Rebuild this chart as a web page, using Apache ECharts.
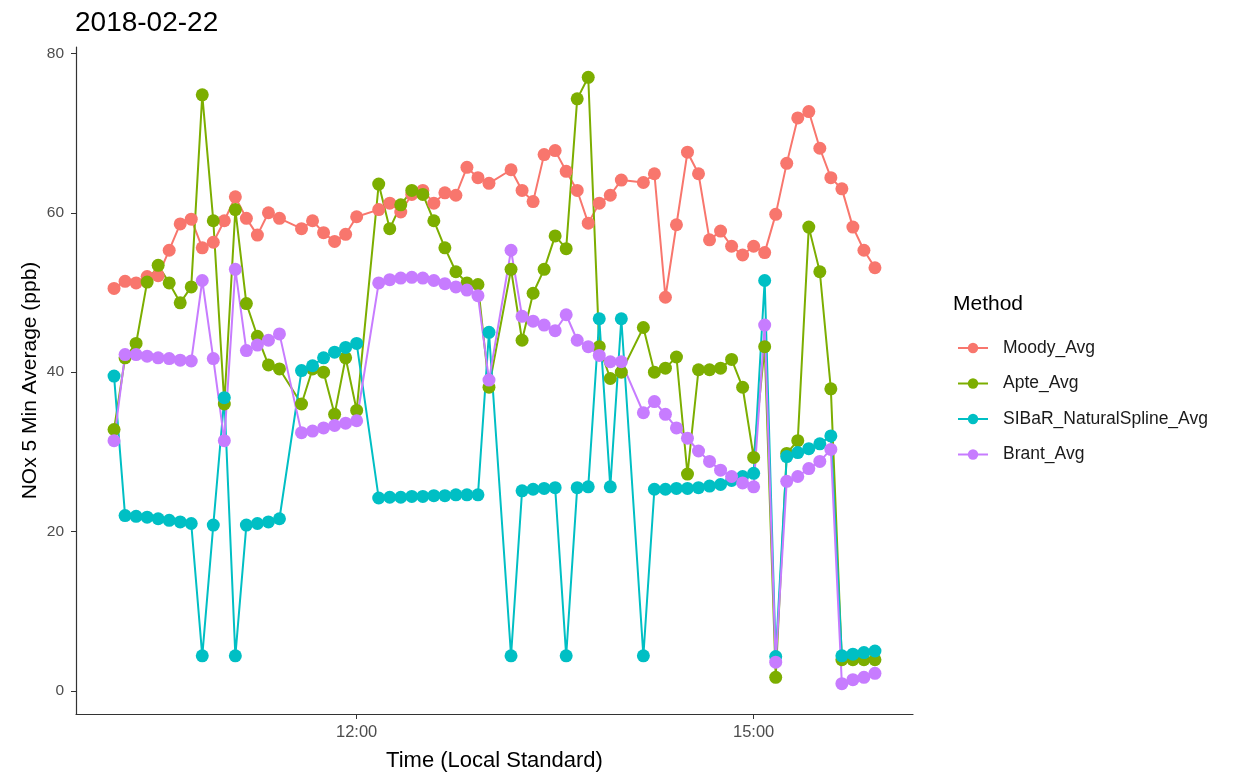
<!DOCTYPE html>
<html>
<head>
<meta charset="utf-8">
<script src="https://cdn.jsdelivr.net/npm/echarts@6/dist/echarts.min.js"></script>
<style>
  html, body { margin: 0; padding: 0; background: #fff; }
  #main { width: 1238px; height: 780px; }
</style>
</head>
<body>
<div id="main"></div>
<script>
// 5 分钟采样时刻（缺失的时刻直接不列出）
var times = ['10:10','10:15','10:20','10:25','10:30','10:35','10:40','10:45','10:50','10:55','11:00','11:05','11:10','11:15','11:20','11:25',
    '11:35','11:40','11:45','11:50','11:55','12:00',
    '12:10','12:15','12:20','12:25','12:30','12:35','12:40','12:45','12:50','12:55','13:00',
    '13:10','13:15','13:20','13:25','13:30','13:35','13:40','13:45','13:50','13:55','14:00',
    '14:10','14:15','14:20','14:25','14:30','14:35','14:40','14:45','14:50','14:55','15:00','15:05','15:10','15:15','15:20','15:25','15:30','15:35','15:40','15:45','15:50','15:55'];

var moody = [50.5, 51.4, 51.2, 52.0, 52.1, 55.3, 58.6, 59.2, 55.6, 56.3, 59.0, 62.0, 59.3, 57.2, 60.0, 59.3,
    58.0, 59.0, 57.5, 56.4, 57.3, 59.5,
    60.4, 61.2, 60.1, 62.3, 62.8, 61.2, 62.5, 62.2, 65.7, 64.4, 63.7,
    65.4, 62.8, 61.4, 67.3, 67.8, 65.2, 62.8, 58.7, 61.2, 62.2, 64.1,
    63.8, 64.9, 49.4, 58.5, 67.6, 64.9, 56.6, 57.7, 55.8, 54.7, 55.8, 55.0, 59.8, 66.2, 71.9, 72.7, 68.1, 64.4, 63.0, 58.2, 55.3, 53.1];

var apte = [32.8, 41.8, 43.6, 51.3, 53.4, 51.2, 48.7, 50.7, 74.8, 59.0, 36.0, 60.4, 48.6, 44.5, 40.9, 40.4,
    36.0, 40.4, 40.0, 34.7, 41.8, 35.2,
    63.6, 58.0, 61.0, 62.8, 62.3, 59.0, 55.6, 52.6, 51.2, 51.0, 38.1,
    52.9, 44.0, 49.9, 52.9, 57.1, 55.5, 74.3, 77.0, 43.2, 39.2, 40.0,
    45.6, 40.0, 40.5, 41.9, 27.2, 40.3, 40.3, 40.5, 41.6, 38.1, 29.3, 43.2, 1.7, 29.8, 31.4, 58.2, 52.6, 37.9, 3.9, 3.9, 3.9, 3.9];

var sibar = [39.5, 22.0, 21.9, 21.8, 21.6, 21.4, 21.2, 21.0, 4.4, 20.8, 36.8, 4.4, 20.8, 21.0, 21.2, 21.6,
    40.2, 40.8, 41.8, 42.5, 43.1, 43.6,
    24.2, 24.3, 24.3, 24.4, 24.4, 24.5, 24.5, 24.6, 24.6, 24.6, 45.0,
    4.4, 25.1, 25.3, 25.4, 25.5, 4.4, 25.5, 25.6, 46.7, 25.6, 46.7,
    4.4, 25.3, 25.3, 25.4, 25.4, 25.5, 25.7, 25.9, 26.4, 26.9, 27.3, 51.5, 4.3, 29.4, 29.9, 30.4, 31.0, 32.0, 4.4, 4.6, 4.8, 5.0];

var brant = [31.4, 42.2, 42.2, 42.0, 41.8, 41.7, 41.5, 41.4, 51.5, 41.7, 31.4, 52.9, 42.7, 43.4, 44.0, 44.8,
    32.4, 32.6, 33.0, 33.3, 33.6, 33.9,
    51.2, 51.6, 51.8, 51.9, 51.8, 51.5, 51.1, 50.7, 50.3, 49.6, 39.0,
    55.3, 47.0, 46.4, 45.9, 45.2, 47.2, 44.0, 43.2, 42.1, 41.3, 41.3,
    34.9, 36.3, 34.7, 33.0, 31.7, 30.1, 28.8, 27.7, 26.9, 26.1, 25.6, 45.9, 3.6, 26.3, 26.9, 27.9, 28.8, 30.3, 0.9, 1.4, 1.7, 2.2];

var methods = ['Moody_Avg', 'Apte_Avg', 'SIBaR_NaturalSpline_Avg', 'Brant_Avg'];
var colors = ['#F8766D', '#7CAE00', '#00BFC4', '#C77CFF'];
var xTicks = ['12:00', '15:00'];
var yTicks = [0, 20, 40, 60, 80];

(function() {
    var myChart = echarts.init(document.getElementById('main'), null, { renderer: 'canvas' });
    var font = 'Liberation Sans, Arial, sans-serif';

    function toMin(t) {
        var p = t.split(':');
        return +p[0] * 60 + +p[1];
    }
    function fmt(v) {
        var h = Math.floor(v / 60), m = Math.round(v % 60);
        return (h < 10 ? '0' : '') + h + ':' + (m < 10 ? '0' : '') + m;
    }
    function pairs(vals) {
        return times.map(function(t, i) { return [toMin(t), vals[i]]; });
    }

    var allData = [moody, apte, sibar, brant];
    var series = methods.map(function(name, k) {
        return {
            name: name,
            type: 'line',
            symbol: 'circle',
            symbolSize: 13,
            showSymbol: true,
            lineStyle: { width: 2, color: colors[k] },
            itemStyle: { color: colors[k] },
            emphasis: { disabled: true },
            data: pairs(allData[k])
        };
    });

    // ggplot 默认两侧各扩展 5%
    var t0 = toMin(times[0]), t1 = toMin(times[times.length - 1]);
    var xPad = (t1 - t0) * 0.05;
    var lo = 0.9, hi = 77;
    var yPad = (hi - lo) * 0.05;

    var option = {
        animation: false,
        textStyle: { fontFamily: font },
        title: [{
            text: '2018-02-22',
            left: 70,
            top: 4,
            textStyle: { fontSize: 28, fontWeight: 'normal', color: '#000', fontFamily: font }
        }, {
            text: 'Method',
            left: 948,
            top: 289,
            textStyle: { fontSize: 21, fontWeight: 'normal', color: '#000', fontFamily: font }
        }],
        legend: {
            orient: 'vertical',
            left: 952,
            top: 334,
            itemWidth: 30,
            itemHeight: 13,
            itemGap: 17.5,
            data: methods,
            textStyle: { fontSize: 17.5, color: '#1a1a1a', padding: [0, 0, 0, 10], fontFamily: font }
        },
        grid: { left: 76, right: 325, top: 47, bottom: 66 },
        xAxis: {
            type: 'value',
            min: t0 - xPad,
            max: t1 + xPad,
            name: 'Time (Local Standard)',
            nameLocation: 'middle',
            nameGap: 36,
            nameMoveOverlap: false,
            nameTextStyle: { fontSize: 22, color: '#000', fontFamily: font },
            axisLine: { onZero: false, lineStyle: { color: '#333', width: 1.2 } },
            axisTick: { customValues: xTicks.map(toMin), length: 5, lineStyle: { color: '#333' } },
            axisLabel: {
                customValues: xTicks.map(toMin),
                formatter: function(v) { return fmt(v); },
                color: '#4d4d4d', fontSize: 16.5, margin: 10, fontFamily: font
            },
            splitLine: { show: false }
        },
        yAxis: {
            type: 'value',
            min: lo - yPad,
            max: hi + yPad,
            name: 'NOx 5 Min Average (ppb)',
            nameLocation: 'middle',
            nameGap: 35,
            nameMoveOverlap: false,
            nameTextStyle: { fontSize: 21, color: '#000', fontFamily: font },
            axisLine: { show: true, onZero: false, lineStyle: { color: '#333', width: 1.2 } },
            axisTick: { show: true, customValues: yTicks, length: 5, lineStyle: { color: '#333' } },
            axisLabel: { customValues: yTicks, color: '#4d4d4d', fontSize: 15.5, margin: 12, fontFamily: font },
            splitLine: { show: false }
        },
        series: series
    };

    myChart.setOption(option);
})();
</script>
</body>
</html>
